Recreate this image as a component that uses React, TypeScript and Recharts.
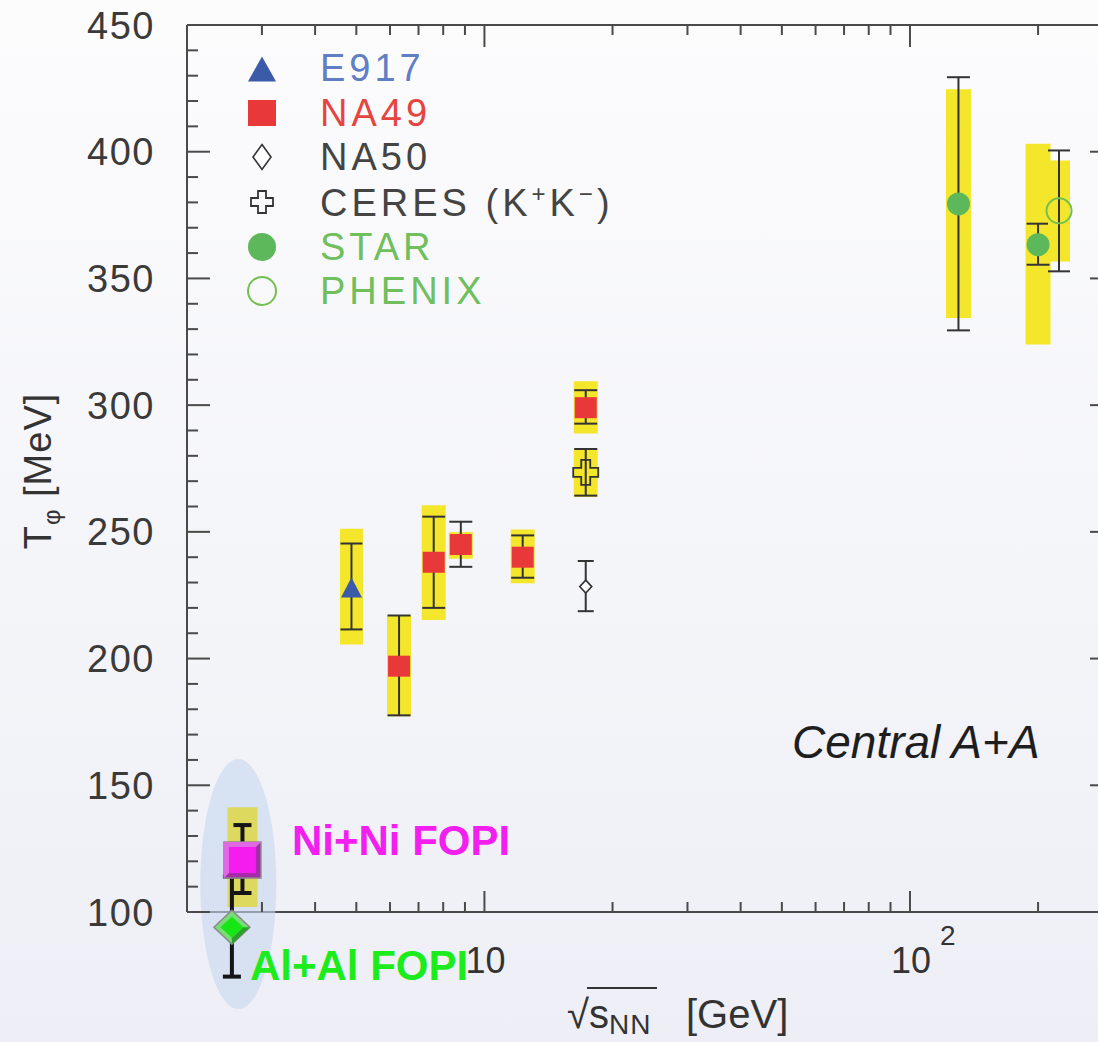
import React from "react";
import {
  ScatterChart, Scatter, XAxis, YAxis, ErrorBar, Legend, ReferenceDot, Customized,
} from "recharts";

// T_phi [MeV] vs sqrt(s_NN) [GeV], central A+A
const e917X = [4.87];
const e917T = [228];
const e917StatLo = [211.5];
const e917StatHi = [245.4];
const e917SysLo = [205.6];
const e917SysHi = [251.2];

const na49X = [6.3, 7.6, 8.8, 12.3, 17.3];
const na49T = [197, 238, 245, 240, 299];
const na49StatLo = [177.6, 220, 236.2, 231.9, 292.7];
const na49StatHi = [217, 256, 254, 248.6, 305.9];
const na49SysLo = [177.2, 215.2, 239.4, 229.7, 288.8];
const na49SysHi = [217.2, 260.5, 249.9, 250.9, 309.4];

const na50X = [17.3];
const na50T = [228.4];
const na50StatLo = [218.7];
const na50StatHi = [238.5];

const ceresX = [17.3];
const ceresT = [273.5];
const ceresStatLo = [264.3];
const ceresStatHi = [282.7];
const ceresSysLo = [263.8];
const ceresSysHi = [283.1];

const starX = [130, 200];
const starT = [379.4, 363.3];
const starStatLo = [329.5, 355.4];
const starStatHi = [429.4, 371.6];
const starSysLo = [334.4, 323.9];
const starSysHi = [424.6, 403.1];

const phenixX = [224];
const phenixT = [376.7];
const phenixStatLo = [352.8];
const phenixStatHi = [400.5];
const phenixSysLo = [356.7];
const phenixSysHi = [396.5];

const niniX = [2.7];
const niniT = [120.5];
const niniStatLo = [107.5];
const niniStatHi = [134.3];
const niniSysLo = [102];
const niniSysHi = [141.3];

const alalX = [2.55];
const alalT = [94];
const alalStatLo = [74.5];
const alalStatHi = [114];

const xTicks = [3, 4, 5, 6, 7, 8, 9, 10, 20, 30, 40, 50, 60, 70, 80, 90, 100, 200];
const yTicks = [
  100, 110, 120, 130, 140, 150, 160, 170, 180, 190, 200, 210, 220, 230, 240, 250, 260, 270,
  280, 290, 300, 310, 320, 330, 340, 350, 360, 370, 380, 390, 400, 410, 420, 430, 440, 450,
];
const yLabels = [100, 150, 200, 250, 300, 350, 400, 450];
const xLabels = [10, 100];

const W = 1140;
const H = 1042;
const FONT = "'Liberation Sans', Arial, Helvetica, sans-serif";
const AXIS = "#4a4a4a";
const YELLOW = "#f3e62b";
const RED = "#e8383a";
const BLUE = "#3b5ba9";
const GREEN = "#5cb85a";
const PGREEN = "#74c04e";

const rows = (x: number[], t: number[], sLo: number[], sHi: number[], yLo?: number[], yHi?: number[]) =>
  x.map((xv, i) => ({
    x: xv,
    y: t[i],
    stat: [t[i] - sLo[i], sHi[i] - t[i]],
    sys: yLo && yHi ? [t[i] - yLo[i], yHi[i] - t[i]] : [0, 0],
  }));

const e917 = rows(e917X, e917T, e917StatLo, e917StatHi, e917SysLo, e917SysHi);
const na49 = rows(na49X, na49T, na49StatLo, na49StatHi, na49SysLo, na49SysHi);
const na50 = rows(na50X, na50T, na50StatLo, na50StatHi);
const ceres = rows(ceresX, ceresT, ceresStatLo, ceresStatHi, ceresSysLo, ceresSysHi);
const star = rows(starX, starT, starStatLo, starStatHi, starSysLo, starSysHi);
const phenix = rows(phenixX, phenixT, phenixStatLo, phenixStatHi, phenixSysLo, phenixSysHi);
const nini = rows(niniX, niniT, niniStatLo, niniStatHi, niniSysLo, niniSysHi);
const alal = rows(alalX, alalT, alalStatLo, alalStatHi);

function tri(cx: number, cy: number, w: number, h: number) {
  return <polygon points={`${cx - w / 2},${cy + h / 2} ${cx + w / 2},${cy + h / 2} ${cx},${cy - h / 2}`} fill={BLUE} />;
}
function sq(cx: number, cy: number, w: number, h: number) {
  return <rect x={cx - w / 2} y={cy - h / 2} width={w} height={h} fill={RED} />;
}
function dia(cx: number, cy: number, w: number, h: number) {
  return (
    <polygon
      points={`${cx},${cy - h / 2} ${cx + w / 2},${cy} ${cx},${cy + h / 2} ${cx - w / 2},${cy}`}
      fill="#fff" stroke="#333" strokeWidth={1.6}
    />
  );
}
function cross(cx: number, cy: number, L: number, a: number) {
  const p = [
    [-a, -L], [a, -L], [a, -a], [L, -a], [L, a], [a, a],
    [a, L], [-a, L], [-a, a], [-L, a], [-L, -a], [-a, -a],
  ].map(([dx, dy]) => `${cx + dx},${cy + dy}`).join(" ");
  return <polygon points={p} fill="none" stroke="#333" strokeWidth={1.8} />;
}
function dot(cx: number, cy: number, r: number) {
  return <circle cx={cx} cy={cy} r={r} fill={GREEN} />;
}
function ring(cx: number, cy: number, r: number) {
  return <circle cx={cx} cy={cy} r={r} fill="none" stroke={PGREEN} strokeWidth={2} />;
}

function NiSquare(p: any) {
  const { cx, cy } = p;
  const w = 18.5, h = 18, b = 5;
  return (
    <g>
      <rect x={cx - w} y={cy - h} width={2 * w} height={2 * h} fill="#a52ba8" stroke="#8c8c8c" strokeWidth={1.5} />
      <polygon
        points={`${cx - w},${cy - h} ${cx + w},${cy - h} ${cx + w - b},${cy - h + b} ${cx - w + b},${cy - h + b} ${cx - w + b},${cy + h - b} ${cx - w},${cy + h}`}
        fill="#e069e4"
      />
      <rect x={cx - w + b} y={cy - h + b} width={2 * (w - b)} height={2 * (h - b)} fill="#f41cef" />
    </g>
  );
}

function AlDiamond(p: any) {
  const { cx, cy } = p;
  const w = 18, h = 17, iw = 11.5, ih = 10.5;
  return (
    <g>
      <polygon points={`${cx},${cy - h} ${cx + w},${cy} ${cx},${cy + h} ${cx - w},${cy}`} fill="#78dc74" stroke="#8a8a8a" strokeWidth={1.5} />
      <polygon points={`${cx + w},${cy} ${cx},${cy + h} ${cx},${cy + ih} ${cx + iw},${cy}`} fill="#2ba02b" />
      <polygon points={`${cx},${cy - ih} ${cx + iw},${cy} ${cx},${cy + ih} ${cx - iw},${cy}`} fill="#16e616" />
    </g>
  );
}

const legendRows = [
  { name: "E917", color: "#5f7ec4", mark: () => tri(28, 23, 28, 25), label: <>E917</> },
  { name: "NA49", color: "#e5443f", mark: () => sq(28, 22, 28, 26), label: <>NA49</> },
  { name: "NA50", color: "#444", mark: () => dia(28, 22, 18, 25), label: <>NA50</> },
  {
    name: "CERES", color: "#444", mark: () => cross(28, 22, 11, 4),
    label: <>CERES (K<sup style={{ fontSize: 24 }}>+</sup>K<sup style={{ fontSize: 24 }}>−</sup>)</>,
  },
  { name: "STAR", color: "#6fbf5c", mark: () => dot(28, 22, 14), label: <>STAR</> },
  { name: "PHENIX", color: "#6fbf5c", mark: () => ring(28, 22, 14), label: <>PHENIX</> },
];

function LegendBox(props: any) {
  const payload = props.payload || [];
  const list = legendRows.filter((r) => payload.some((p: any) => p.value === r.name));
  return (
    <div style={{ fontFamily: FONT }}>
      {list.map((r) => (
        <div key={r.name} style={{ display: "flex", alignItems: "center", height: 44.6 }}>
          <svg width={56} height={44} style={{ display: "block" }}>{r.mark()}</svg>
          <span style={{ marginLeft: 30, color: r.color, fontSize: 38, letterSpacing: 4, lineHeight: 1, whiteSpace: "nowrap" }}>
            {r.label}
          </span>
        </div>
      ))}
    </div>
  );
}

const isMajorX = (v: number) => xLabels.includes(v);
const isMajorY = (v: number) => yLabels.includes(v);

function BottomTick(p: any) {
  const { x, y, payload } = p;
  const v = payload.value;
  const major = isMajorX(v);
  const exp = Math.round(Math.log10(v));
  return (
    <g>
      <line x1={x} x2={x} y1={y} y2={y - (major ? 21 : 10)} stroke={AXIS} strokeWidth={2} />
      {major && (
        <text x={x + 1} y={y + 61} textAnchor="middle" fontFamily={FONT} fontSize={36} fill="#333">
          10
        </text>
      )}
      {major && exp > 1 && (
        <text x={x + 30} y={y + 33} fontFamily={FONT} fontSize={28} fill="#333">
          {exp}
        </text>
      )}
    </g>
  );
}

function TopTick(p: any) {
  const { x, y, payload } = p;
  const major = isMajorX(payload.value);
  return <line x1={x} x2={x} y1={y} y2={y + (major ? 22 : 10)} stroke={AXIS} strokeWidth={2} />;
}

function LeftTick(p: any) {
  const { x, y, payload } = p;
  const v = payload.value;
  const major = isMajorY(v);
  return (
    <g>
      <line x1={x} x2={x + (major ? 23 : 11)} y1={y} y2={y} stroke={AXIS} strokeWidth={2} />
      {major && (
        <text x={x - 32} y={y + 13.5} textAnchor="end" fontFamily={FONT} fontSize={38} letterSpacing={1.5} fill="#3a3a3a">
          {v}
        </text>
      )}
    </g>
  );
}

function RightTick(p: any) {
  const { x, y, payload } = p;
  const major = isMajorY(payload.value);
  return <line x1={x} x2={x - (major ? 23 : 11)} y1={y} y2={y} stroke={AXIS} strokeWidth={2} />;
}

function Titles() {
  return (
    <g fontFamily={FONT}>
      <text transform="translate(51,471) rotate(-90)" textAnchor="middle" fontSize={38} fill="#333" letterSpacing={1}>
        T<tspan dy={9} fontSize={24}>φ</tspan>
        <tspan dy={-9}> [MeV]</tspan>
      </text>
      <text x={567} y={1028} fontSize={40} fill="#333">
        √s<tspan dy={6} fontSize={28} letterSpacing={1}>NN</tspan>
      </text>
      <text x={686} y={1028} fontSize={40} fill="#333">[GeV]</text>
      <line x1={587} x2={657} y1={988} y2={988} stroke="#333" strokeWidth={2} />
      <text x={792} y={758} fontSize={46} fontStyle="italic" fill="#1e1e1e">Central A+A</text>
      <text x={292} y={855} fontSize={42} fontWeight="bold" fill="#f31fee">Ni+Ni FOPI</text>
      <text x={250} y={980} fontSize={42} fontWeight="bold" fill="#1ceb1c">Al+Al FOPI</text>
    </g>
  );
}

const axisLine = { stroke: AXIS, strokeWidth: 2 };
const pxPerT = (912 - 25) / (450 - 100);
const overlayBottom = 130 - (100 - 60) * pxPerT;

export default function App() {
  const sysBar = (w: number) => (
    <ErrorBar dataKey="sys" direction="y" width={0} stroke={YELLOW} strokeWidth={w} isAnimationActive={false} />
  );
  const statBar = (w: number) => (
    <ErrorBar dataKey="stat" direction="y" width={w} stroke="#333" strokeWidth={2} isAnimationActive={false} />
  );
  return (
    <div
      style={{
        position: "fixed", left: 0, top: 0, width: 1098, height: 1042, overflow: "hidden",
        background: "linear-gradient(#fcfcfd, #eeeff6)",
      }}
    >
      <div style={{ position: "absolute", left: 0, top: 0, width: W, height: H }}>
        <ScatterChart width={W} height={H} margin={{ top: 0, right: 0, bottom: 0, left: 0 }}>
          <XAxis
            xAxisId="b" orientation="bottom" type="number" dataKey="x" scale="log" domain={[2, 300]}
            allowDataOverflow ticks={xTicks} interval={0} tickSize={0} tickMargin={0}
            tick={(p: any) => <BottomTick {...p} />} tickLine={false} axisLine={axisLine} height={130}
          />
          <XAxis
            xAxisId="t" orientation="top" type="number" dataKey="x" scale="log" domain={[2, 300]}
            allowDataOverflow ticks={xTicks} interval={0} tickSize={0} tickMargin={0}
            tick={(p: any) => <TopTick {...p} />} tickLine={false} axisLine={axisLine} height={25}
          />
          <YAxis
            yAxisId="l" orientation="left" type="number" dataKey="y" domain={[100, 450]}
            allowDataOverflow ticks={yTicks} interval={0} tickSize={0} tickMargin={0}
            tick={(p: any) => <LeftTick {...p} />} tickLine={false} axisLine={axisLine} width={187}
          />
          <YAxis
            yAxisId="r" orientation="right" type="number" dataKey="y" domain={[100, 450]}
            allowDataOverflow ticks={yTicks} interval={0} tickSize={0} tickMargin={0}
            tick={(p: any) => <RightTick {...p} />} tickLine={false} axisLine={axisLine} width={27}
          />
          <ReferenceDot
            xAxisId="b" yAxisId="l" x={2.64} y={111} ifOverflow="visible"
            shape={(p: any) => <ellipse cx={p.cx} cy={p.cy} rx={38} ry={125} fill="#c7d7ee" fillOpacity={0.6} />}
          />
          <Scatter name="E917" xAxisId="b" yAxisId="l" data={e917} fill={BLUE} isAnimationActive={false}
            shape={(p: any) => tri(p.cx, p.cy, 21, 20)}>
            {sysBar(23)}
            {statBar(11)}
          </Scatter>
          <Scatter name="NA49" xAxisId="b" yAxisId="l" data={na49} fill={RED} isAnimationActive={false}
            shape={(p: any) => sq(p.cx, p.cy, 22, 21)}>
            {sysBar(24)}
            {statBar(11.5)}
          </Scatter>
          <Scatter name="NA50" xAxisId="b" yAxisId="l" data={na50} fill="#333" isAnimationActive={false}
            shape={(p: any) => dia(p.cx, p.cy, 12, 13)}>
            {statBar(8)}
          </Scatter>
          <Scatter name="CERES" xAxisId="b" yAxisId="l" data={ceres} fill="#333" isAnimationActive={false}
            shape={(p: any) => cross(p.cx, p.cy, 12.5, 4.5)}>
            {sysBar(24)}
            {statBar(11.5)}
          </Scatter>
          <Scatter name="STAR" xAxisId="b" yAxisId="l" data={star} fill={GREEN} isAnimationActive={false}
            shape={(p: any) => dot(p.cx, p.cy, 11.5)}>
            {sysBar(25)}
            {statBar(11.5)}
          </Scatter>
          <Scatter name="PHENIX" xAxisId="b" yAxisId="l" data={phenix} fill={PGREEN} isAnimationActive={false}
            shape={(p: any) => ring(p.cx, p.cy, 12.5)}>
            {sysBar(22)}
            {statBar(11)}
          </Scatter>
          <Legend
            layout="vertical" align="center" verticalAlign="middle"
            wrapperStyle={{ left: 234, top: 46, width: 430 }}
            content={(p: any) => <LegendBox {...p} />}
          />
        </ScatterChart>
      </div>
      <div style={{ position: "absolute", left: 0, top: 0, width: W, height: H }}>
        <ScatterChart width={W} height={H} margin={{ top: 25, right: 27, bottom: overlayBottom, left: 187 }}>
          <XAxis xAxisId="o" hide type="number" dataKey="x" scale="log" domain={[2, 300]} />
          <YAxis yAxisId="o" hide type="number" dataKey="y" domain={[60, 450]} />
          <Scatter name="Ni+Ni FOPI" xAxisId="o" yAxisId="o" data={nini} fill="#f41cef" isAnimationActive={false}
            shape={(p: any) => <NiSquare {...p} />}>
            <ErrorBar dataKey="sys" direction="y" width={0} stroke="#dcd95e" strokeWidth={30} isAnimationActive={false} />
            <ErrorBar dataKey="stat" direction="y" width={9} stroke="#151515" strokeWidth={4} isAnimationActive={false} />
          </Scatter>
          <Scatter name="Al+Al FOPI" xAxisId="o" yAxisId="o" data={alal} fill="#16e616" isAnimationActive={false}
            shape={(p: any) => <AlDiamond {...p} />}>
            <ErrorBar dataKey="stat" direction="y" width={9} stroke="#151515" strokeWidth={4} isAnimationActive={false} />
          </Scatter>
          <Customized component={Titles} />
        </ScatterChart>
      </div>
    </div>
  );
}
